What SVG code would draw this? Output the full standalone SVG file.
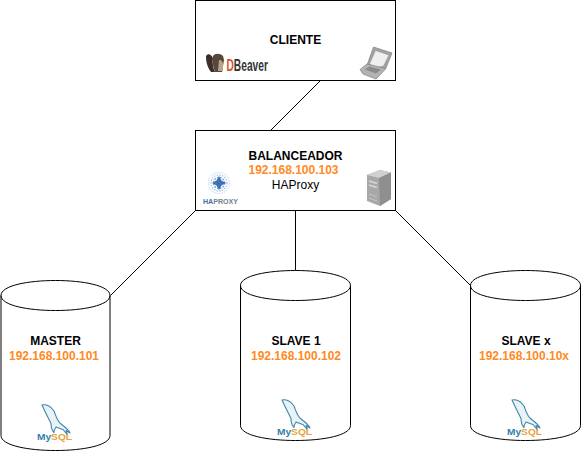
<svg xmlns="http://www.w3.org/2000/svg" xmlns:xlink="http://www.w3.org/1999/xlink" width="581" height="451" viewBox="0 0 581 451">
<style>
.box{fill:#fff;stroke:#000;stroke-width:1}
.cyl{fill:#fff;stroke:#000;stroke-width:1}
.t{font-family:"Liberation Sans",Arial,sans-serif;font-size:12px;text-anchor:middle;fill:#000}
.b{font-weight:bold}
.ip{font-weight:bold;fill:#ff8a1f}
.conn{stroke:#000;stroke-width:1;fill:none}
.my{font-family:"Liberation Sans",Arial,sans-serif;font-size:9.500px;font-weight:bold}
.ring{fill:none}
</style>
<defs>
<g id="mysql">
<path d="M0 1C4 0 9 2 12 7C14 12 15 17 19 20C23 23 26 25 28 29L24 26.500L25.500 31L21 25.500C18 24.500 16 24 14 23C12.500 25 12 27 12 28.500C9.500 26 9 23 9 19.500C7 15 4 10 0 1Z" fill="#e9f2f6" stroke="#3e87ab" stroke-width="1.100" stroke-linejoin="round"/>
<text x="-5" y="36" class="my" fill="#2f7fb0" textLength="35" lengthAdjust="spacingAndGlyphs">My<tspan fill="#e8a33a">SQL</tspan></text>
</g>
</defs>
<g id="connectors">
<line class="conn" x1="320.500" y1="80.500" x2="270.500" y2="130.500"/>
<line class="conn" x1="195.500" y1="210.500" x2="110.500" y2="295.500"/>
<line class="conn" x1="295.500" y1="210.500" x2="295.500" y2="270.500"/>
<line class="conn" x1="395.500" y1="210.500" x2="470.500" y2="285.500"/>
</g>
<g id="cliente">
<rect class="box" x="195.500" y="0.500" width="200" height="80"/>
<text class="t b" x="295.500" y="44">CLIENTE</text>
<path d="M206 56C208 53 211 54 213 58C212 62 213 68 215 72L211 72C207 67 206 61 206 56Z" fill="#3b2f28"/>
<path d="M213 56C215 53 220 53 223 56L224 60L222 72L215 72C213 67 212 61 213 56Z" fill="#57463a"/>
<path d="M219 60C222 60 223 62 223 65L223 71L218 71Z" fill="#b9a58c"/>
<text transform="translate(226.500 70.500) scale(.68 1.100)" font-family="'Liberation Sans',Arial,sans-serif" font-size="15" font-weight="bold" fill="#333"><tspan fill="#d9531e">D</tspan>Beaver</text>
<path d="M366 68L373.500 47L392 53L386 68L378 72Z" fill="#a3a3a3" stroke="#808080" stroke-width=".7"/>
<path d="M369.500 64L375.500 50.500L389 55L383.500 66L376 68Z" fill="#efefef" stroke="#8a8a8a" stroke-width=".5"/>
<path d="M360 69.500L367 64L386 68.500L376 79L363 74Z" fill="#b3b3b3" stroke="#808080" stroke-width=".7"/>
<path d="M365 69.500L369 66.500L381 69.500L376 73.500Z" fill="#8a8a8a"/>
</g>
<g id="balanceador">
<rect class="box" x="195.500" y="130.500" width="200" height="80"/>
<text class="t b" x="295.500" y="160">BALANCEADOR</text>
<text class="t ip" x="293.500" y="174">192.168.100.103</text>
<text class="t" x="295.500" y="189">HAProxy</text>
<circle class="ring" cx="219" cy="183" r="10.500" stroke="#c9dbee" stroke-width="1.200" stroke-dasharray="1.300 1.200"/>
<circle class="ring" cx="219" cy="183" r="8" stroke="#a9c5e3" stroke-width="1.300" stroke-dasharray="1.500 1.200"/>
<circle class="ring" cx="219" cy="183" r="5.500" stroke="#7ba4d2" stroke-width="1.500" stroke-dasharray="1.800 1.100"/>
<path d="M219 176L221.500 180.500L226 183L221.500 185.500L219 190L216.500 185.500L212 183L216.500 180.500Z" fill="#3f72b5"/>
<text transform="translate(203 204)" font-family="'Liberation Sans',Arial,sans-serif" font-size="8" textLength="35" lengthAdjust="spacingAndGlyphs" fill="#6f7f93" font-weight="bold"><tspan fill="#3f6fa8">HA</tspan>PROXY</text>
<path d="M367 175L380 170L391 172.500L391 199L380 206L367 201Z" fill="#a8a8a8"/>
<path d="M367 175L380 170L391 172.500L379 178Z" fill="#d0d0d0"/>
<path d="M379 178L391 172.500L391 199L380 206Z" fill="#8f8f8f"/>
<path d="M369 181L377 183.500M369 185L377 187.500" stroke="#d8d8d8" stroke-width="1.500"/>
<path d="M369 194L377 197M369 198L377 201" stroke="#c4c4c4" stroke-width="1"/>
</g>
<g id="master">
<path class="cyl" d="M1 295.500C1 275.500 110 275.500 110 295.500L110 435.500C110 455.500 1 455.500 1 435.500Z"/>
<path class="cyl" d="M1 295.500C1 315.500 110 315.500 110 295.500" fill-opacity="0"/>
<text class="t b" x="55.500" y="345">MASTER</text>
<text class="t ip" x="54" y="360">192.168.100.101</text>
<use href="#mysql" xlink:href="#mysql" x="42" y="404"/>
</g>
<g id="slave1">
<path class="cyl" d="M240.500 285.500C240.500 265.500 350.500 265.500 350.500 285.500L350.500 425.500C350.500 445.500 240.500 445.500 240.500 425.500Z"/>
<path class="cyl" d="M240.500 285.500C240.500 305.500 350.500 305.500 350.500 285.500" fill-opacity="0"/>
<text class="t b" x="296" y="345">SLAVE 1</text>
<text class="t ip" x="296" y="360">192.168.100.102</text>
<use href="#mysql" xlink:href="#mysql" x="282" y="399"/>
</g>
<g id="slavex">
<path class="cyl" d="M470.500 285.500C470.500 265.500 580.500 265.500 580.500 285.500L580.500 425.500C580.500 445.500 470.500 445.500 470.500 425.500Z"/>
<path class="cyl" d="M470.500 285.500C470.500 305.500 580.500 305.500 580.500 285.500" fill-opacity="0"/>
<text class="t b" x="526" y="345">SLAVE x</text>
<text class="t ip" x="524" y="360">192.168.100.10x</text>
<use href="#mysql" xlink:href="#mysql" x="512" y="399"/>
</g>
</svg>
